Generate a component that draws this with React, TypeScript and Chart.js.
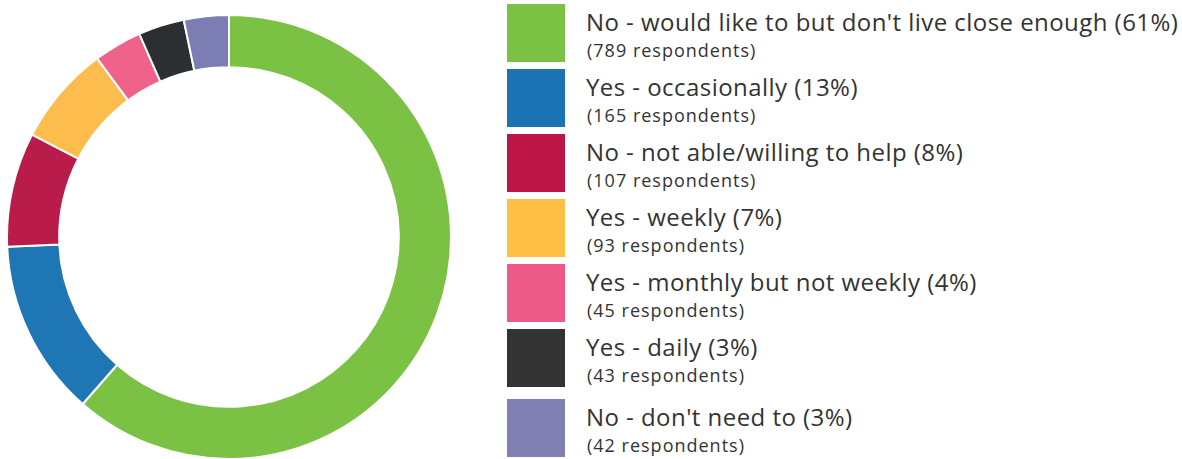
import React, { useEffect, useRef } from "react";
import { Chart, registerables } from "chart.js";

Chart.register(...registerables);

const labels = [
  "No - would like to but don't live close enough",
  "Yes - occasionally",
  "No - not able/willing to help",
  "Yes - weekly",
  "Yes - monthly but not weekly",
  "Yes - daily",
  "No - don't need to",
];
const respondents = [789, 165, 107, 93, 45, 43, 42];
const percents = [61, 13, 8, 7, 4, 3, 3];
const sliceColors = ["#7BC143", "#1E77B4", "#B91C4B", "#FDBD4C", "#EF6289", "#2C2F31", "#7C7DB2"];
const legendColors = ["#7BC143", "#1C73B4", "#BC1546", "#FDBF45", "#EE5B88", "#333333", "#8080B3"];

export default function App() {
  const ref = useRef<HTMLCanvasElement | null>(null);
  useEffect(() => {
    if (!ref.current) return;
    const chart = new Chart(ref.current, {
      type: "doughnut",
      data: {
        labels,
        datasets: [
          {
            data: respondents,
            backgroundColor: sliceColors,
            borderColor: "#ffffff",
            borderWidth: 2,
          },
        ],
      },
      options: {
        animation: false,
        responsive: false,
        maintainAspectRatio: false,
        cutout: "76.5%",
        layout: { padding: 0 },
        plugins: { legend: { display: false }, tooltip: { enabled: false } },
      },
    });
    return () => chart.destroy();
  }, []);

  return (
    <div style={{ position: "absolute", left: 0, top: 0, width: 1182, height: 459, fontFamily: "'Open Sans', sans-serif", color: "#333" }}>
      <div style={{ position: "absolute", left: 6, top: 14, width: 446, height: 446 }}>
        <canvas ref={ref} width={446} height={446} style={{ width: 446, height: 446 }} />
      </div>
      {labels.map((l, i) => {
        const top = 4 + i * 65 + (i === 6 ? 5 : 0);
        return (
          <div key={i} style={{ position: "absolute", left: 507, top, height: 58, width: 675 }}>
            <div style={{ position: "absolute", left: 0, top: 0, width: 58, height: 58, background: legendColors[i] }} />
            <div style={{ position: "absolute", left: 79, top: 4, fontSize: 24, lineHeight: "28px", letterSpacing: "0.45px", whiteSpace: "nowrap" }}>
              {l} ({percents[i]}%)
            </div>
            <div style={{ position: "absolute", left: 80, top: 35, fontSize: 18, lineHeight: "22px", letterSpacing: "1px", whiteSpace: "nowrap" }}>
              ({respondents[i]} respondents)
            </div>
          </div>
        );
      })}
    </div>
  );
}
